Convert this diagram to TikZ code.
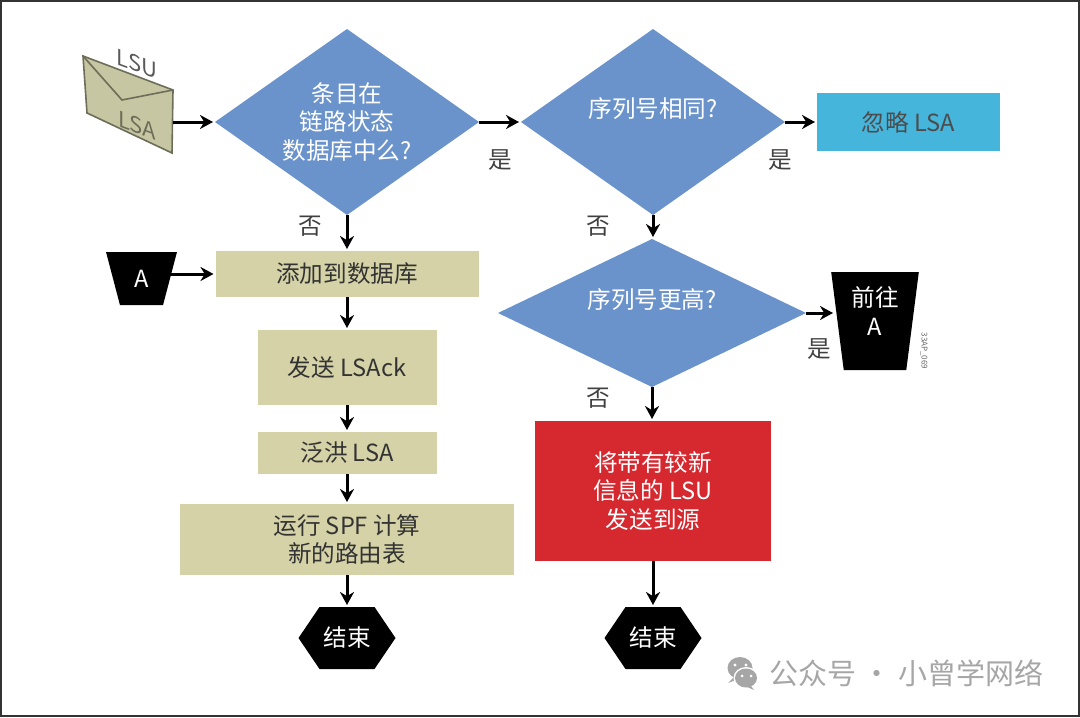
\documentclass[tikz,border=0pt]{standalone}
\usepackage{fontspec}
\setmainfont{Noto Sans CJK SC}
\usetikzlibrary{arrows.meta,shapes.geometric}
\definecolor{diamondblue}{HTML}{6A93CB}
\definecolor{boxolive}{HTML}{D4D2A6}
\definecolor{ignoreblue}{HTML}{46B5DC}
\definecolor{sendred}{HTML}{D5282F}
\definecolor{envelopeolive}{HTML}{C6C6A2}
\definecolor{marktext}{HTML}{A6A6A6}
\tikzset{
  every node/.style={inner sep=0pt,outer sep=0pt,font=\fontsize{11.8pt}{14.2pt}\selectfont,align=center},
  decide/.style={diamond,aspect=1.42,fill=diamondblue,text=white},
  stepbox/.style={fill=boxolive,text=black!80},
  startcap/.style={trapezium,trapezium stretches=true,shape border rotate=180,fill=black,text=white},
  endcap/.style={minimum width=48.5pt,minimum height=31pt,text=white,path picture={
    \fill[black] (path picture bounding box.west)
      -- ([xshift=10.5pt]path picture bounding box.north west)
      -- ([xshift=-10.5pt]path picture bounding box.north east)
      -- (path picture bounding box.east)
      -- ([xshift=-10.5pt]path picture bounding box.south east)
      -- ([xshift=10.5pt]path picture bounding box.south west) -- cycle;}},
  answer/.style={text=black!75},
  flow/.style={-{Stealth[length=6.5pt,width=7pt]},line width=1.5pt,black,shorten >=1pt}
}
\begin{document}
\begin{tikzpicture}[x=0.5pt,y=-0.5pt]
  \useasboundingbox (0,0) rectangle (1080,717);
  \draw[black!80,line width=1pt] (1,1) rectangle (1079,716);
  \coordinate (envtl) at (83,56);
  \coordinate (envtr) at (173,90);
  \coordinate (envbr) at (172,153);
  \coordinate (envbl) at (87,113);
  \coordinate (envflap) at (122,100);
  \coordinate (envout) at (173,122);
  \draw[fill=envelopeolive,draw=black!45!envelopeolive,line width=0.8pt] (envtl) -- (envtr) -- (envbr) -- (envbl) -- cycle;
  \draw[black!45!envelopeolive,line width=0.8pt] (envtl) -- (envflap) -- (envtr);
  \node[shift={(137,64)},yslant=-0.37,transform shape,text=black!65,font=\fontsize{11pt}{12pt}\selectfont] (lsu) at (0,0) {LSU};
  \node[shift={(137,125)},yslant=-0.37,transform shape,text=black!45!envelopeolive,font=\fontsize{11pt}{12pt}\selectfont] (lsa) at (0,0) {LSA};
  \node[decide,minimum width=132pt,minimum height=93pt] (indb) at (347,122) {\raisebox{5pt}{\parbox{70pt}{\centering 条目在\\链路状态\\数据库中么?}}};
  \node[decide,minimum width=132pt,minimum height=93pt] (same) at (653,122) {\raisebox{14pt}{序列号相同?}};
  \node[decide,aspect=2,minimum width=154pt,minimum height=74pt] (newer) at (652,313) {\raisebox{14pt}{序列号更高?}};
  \node[fill=ignoreblue,text=black!70,minimum width=91.5pt,minimum height=29pt] (ignore) at (908.5,122) {忽略 LSA};
  \node[startcap,trapezium left angle=75,trapezium right angle=75,minimum width=35.5pt,minimum height=26.5pt] (capa) at (141.5,278.5) {A};
  \node[stepbox,minimum width=131.5pt,minimum height=23pt] (add) at (347,274) {添加到数据库};
  \node[stepbox,minimum width=89.5pt,minimum height=37.5pt] (ack) at (347,367.5) {发送 LSAck};
  \node[stepbox,minimum width=89.5pt,minimum height=21pt] (flood) at (347,453) {泛洪 LSA};
  \node[stepbox,minimum width=167pt,minimum height=35.5pt] (spf) at (347,539.5) {运行 SPF 计算\\新的路由表};
  \node[endcap] (endl) at (347,638) {结束};
  \node[fill=sendred,text=white,minimum width=118pt,minimum height=70pt] (send) at (653,491) {将带有较新\\信息的 LSU\\发送到源};
  \node[endcap] (endr) at (653,638) {结束};
  \node[startcap,trapezium left angle=80,trapezium right angle=80,minimum width=44pt,minimum height=49pt] (goa) at (875,321) {\raisebox{19pt}{\parbox{30pt}{\centering 前往\\A}}};
  \coordinate (goain) at (835,313);
  \node[answer] (yes1) at (500,160) {是};
  \node[answer] (yes2) at (780,160) {是};
  \node[answer] (yes3) at (819,349) {是};
  \node[answer] (no1) at (310,226) {否};
  \node[answer] (no2) at (598,226) {否};
  \node[answer] (no3) at (598,398) {否};
  \node[rotate=-90,text=black!60,font=\fontsize{4pt}{5pt}\selectfont] (code) at (924,351) {33AP\_069};
  \begin{scope}[flow]
    \draw (envout) to (indb.west);
    \draw (indb.east) to (same.west);
    \draw (same.east) to (ignore.west);
    \draw (indb.south) to (add.north);
    \draw (capa.east |- add.west) to (add.west);
    \draw (add.south) to (ack.north);
    \draw (ack.south) to (flood.north);
    \draw (flood.south) to (spf.north);
    \draw (spf.south) to (endl.north);
    \draw (same.south) to (same.south |- newer.north);
    \draw (newer.east) to (goain);
    \draw (newer.south) to (newer.south |- send.north);
    \draw (send.south) to (endr.north);
  \end{scope}
  \node[text=marktext,font=\fontsize{14.5pt}{18pt}\selectfont] (mark) at (906,673) {公众号 · 小曾学网络};
  \fill[marktext] (740,668) ellipse (12.5 and 11);
  \fill[marktext] (734,677) -- (728,683) -- (741,678) -- cycle;
  \fill[white] (746,678) ellipse (12.5 and 11);
  \fill[marktext] (746,678) ellipse (11 and 9.5);
  \fill[marktext] (751,686) -- (754,690) -- (745,686) -- cycle;
  \fill[white] (735,665) circle (1.6) (746,665) circle (1.6) (742,676) circle (1.5) (751,676) circle (1.5);
\end{tikzpicture}
\end{document}
